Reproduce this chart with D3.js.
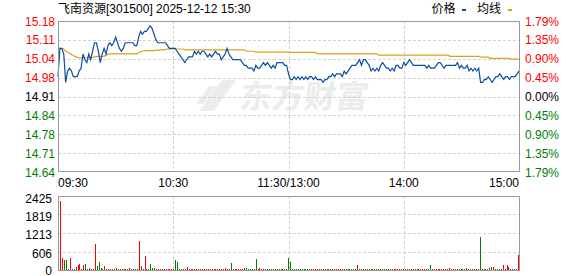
<!DOCTYPE html>
<html>
<head>
<meta charset="utf-8">
<script src="https://cdn.jsdelivr.net/npm/d3@7"></script>
<style>
  body { margin: 0; background: #fff; }
  svg { display: block; font-family: "Liberation Sans", Arial, "Noto Sans CJK SC", sans-serif; }
</style>
</head>
<body>
<div id="graf"></div>
<script>
// Data
const title = "飞南资源[301500] 2025-12-12 15:30"
const legendNames = ["价格", "均线"]
const prevClose = 14.91
const maxPct = 0.0179

const timeLabels = ["09:30", "10:30", "11:30/13:00", "14:00", "15:00"]
const timeMinutes = [0, 60, 120, 180, 240]
const priceLabels = ["15.18", "15.11", "15.04", "14.98", "14.91", "14.84", "14.78", "14.71", "14.64"]
const pctLabels = ["1.79%", "1.35%", "0.90%", "0.45%", "0.00%", "0.45%", "0.90%", "1.35%", "1.79%"]
const volTicks = [2425, 1819, 1213, 606, 0]

// one value per minute, 09:30 .. 11:30 / 13:00 .. 15:00
const prices = [
  14.98, 15.08, 15.08, 15.06, 14.96, 15.00, 15.01, 15.00, 14.98, 14.98,
  14.98, 15.00, 15.01, 15.06, 15.04, 15.03, 15.06, 15.04, 15.07, 15.10,
  15.10, 15.07, 15.03, 15.06, 15.08, 15.06, 15.09, 15.10, 15.09, 15.10,
  15.12, 15.10, 15.08, 15.07, 15.08, 15.10, 15.10, 15.10, 15.10, 15.10,
  15.09, 15.09, 15.12, 15.14, 15.13, 15.14, 15.14, 15.15, 15.16, 15.15,
  15.13, 15.11, 15.10, 15.10, 15.10, 15.10, 15.10, 15.09, 15.08, 15.08,
  15.08, 15.08, 15.07, 15.06, 15.05, 15.04, 15.03, 15.04, 15.05, 15.05,
  15.05, 15.07, 15.06, 15.07, 15.06, 15.07, 15.07, 15.06, 15.05, 15.06,
  15.05, 15.06, 15.07, 15.06, 15.06, 15.04, 15.05, 15.06, 15.08, 15.06,
  15.05, 15.04, 15.04, 15.04, 15.04, 15.04, 15.03, 15.02, 15.02, 15.01,
  15.01, 15.01, 15.00, 15.02, 15.01, 15.01, 15.02, 15.03, 15.02, 15.03,
  15.02, 15.01, 15.02, 15.01, 15.03, 15.03, 15.03, 15.03, 15.02, 15.02,
  14.99, 14.97, 14.97, 14.98, 14.97, 14.98, 14.97, 14.98, 14.97, 14.98,
  14.97, 14.98, 14.98, 14.97, 14.98, 14.97, 14.97, 14.97, 14.96, 14.97,
  14.97, 14.98, 14.98, 14.99, 14.98, 14.99, 14.99, 14.99, 14.98, 15.00,
  14.99, 15.00, 15.01, 15.02, 15.02, 15.02, 15.03, 15.04, 15.02, 15.04,
  15.04, 15.03, 15.02, 15.00, 15.01, 15.00, 15.01, 15.00, 15.02, 15.03,
  15.02, 15.01, 15.01, 15.00, 15.01, 15.00, 15.02, 15.02, 15.01, 15.01,
  15.03, 15.02, 15.03, 15.04, 15.03, 15.02, 15.02, 15.02, 15.02, 15.02,
  15.02, 15.02, 15.01, 15.02, 15.01, 15.01, 15.01, 15.02, 15.03, 15.03,
  15.02, 15.01, 15.02, 15.02, 15.02, 15.02, 15.02, 15.02, 15.03, 15.01,
  15.02, 15.01, 15.01, 15.02, 15.00, 15.01, 15.00, 15.01, 15.00, 15.01,
  14.96, 14.96, 14.97, 14.97, 14.98, 14.97, 14.96, 14.97, 14.98, 14.98,
  14.99, 14.98, 14.97, 14.98, 14.98, 14.97, 14.98, 14.98, 14.98, 14.99,
  15.00
]

const avgPrices = [
  15.080, 15.080, 15.080, 15.078, 15.070, 15.067, 15.063, 15.058, 15.056, 15.051,
  15.048, 15.047, 15.047, 15.047, 15.047, 15.047, 15.047, 15.047, 15.048, 15.050,
  15.051, 15.052, 15.052, 15.052, 15.052, 15.056, 15.061, 15.061, 15.061, 15.061,
  15.061, 15.061, 15.061, 15.061, 15.061, 15.061, 15.061, 15.061, 15.061, 15.061,
  15.061, 15.061, 15.065, 15.068, 15.070, 15.072, 15.072, 15.072, 15.072, 15.072,
  15.072, 15.074, 15.074, 15.074, 15.076, 15.076, 15.076, 15.078, 15.078, 15.078,
  15.078, 15.078, 15.078, 15.078, 15.078, 15.078, 15.075, 15.075, 15.075, 15.075,
  15.075, 15.075, 15.075, 15.075, 15.075, 15.075, 15.075, 15.075, 15.075, 15.075,
  15.075, 15.075, 15.075, 15.075, 15.075, 15.075, 15.075, 15.075, 15.075, 15.075,
  15.075, 15.075, 15.075, 15.075, 15.075, 15.075, 15.075, 15.075, 15.070, 15.070,
  15.070, 15.070, 15.070, 15.067, 15.067, 15.067, 15.067, 15.067, 15.067, 15.067,
  15.067, 15.067, 15.067, 15.067, 15.067, 15.067, 15.067, 15.067, 15.067, 15.067,
  15.067, 15.066, 15.066, 15.066, 15.066, 15.066, 15.066, 15.066, 15.066, 15.066,
  15.066, 15.066, 15.066, 15.066, 15.066, 15.061, 15.061, 15.061, 15.061, 15.061,
  15.061, 15.061, 15.061, 15.061, 15.061, 15.061, 15.061, 15.061, 15.061, 15.061,
  15.061, 15.061, 15.061, 15.061, 15.061, 15.061, 15.061, 15.061, 15.061, 15.061,
  15.061, 15.061, 15.061, 15.061, 15.061, 15.061, 15.061, 15.056, 15.056, 15.056,
  15.056, 15.056, 15.056, 15.056, 15.056, 15.056, 15.056, 15.056, 15.056, 15.056,
  15.056, 15.056, 15.056, 15.056, 15.056, 15.056, 15.056, 15.056, 15.056, 15.056,
  15.056, 15.056, 15.056, 15.056, 15.056, 15.056, 15.056, 15.056, 15.056, 15.056,
  15.056, 15.056, 15.056, 15.056, 15.052, 15.052, 15.052, 15.052, 15.052, 15.052,
  15.052, 15.052, 15.052, 15.052, 15.052, 15.052, 15.052, 15.052, 15.052, 15.052,
  15.049, 15.049, 15.049, 15.049, 15.049, 15.045, 15.045, 15.045, 15.045, 15.045,
  15.045, 15.045, 15.045, 15.045, 15.045, 15.045, 15.042, 15.042, 15.042, 15.042,
  15.042
]

const volumes = [
  50, 2251, 403, 336, 336, 34, 403, 20, 45, 100,
  157, 200, 15, 180, 200, 45, 67, 45, 22, 840,
  135, 270, 67, 15, 135, 45, 20, 20, 20, 20,
  67, 20, 20, 20, 20, 20, 20, 67, 20, 20,
  45, 20, 940, 135, 20, 470, 20, 20, 200, 80,
  50, 20, 20, 20, 20, 20, 40, 20, 20, 20,
  20, 340, 270, 20, 20, 20, 20, 100, 20, 20,
  20, 20, 20, 20, 20, 20, 20, 20, 20, 20,
  20, 20, 20, 20, 20, 20, 20, 67, 20, 20,
  235, 20, 20, 20, 20, 20, 20, 67, 67, 20,
  20, 20, 20, 370, 20, 67, 20, 20, 20, 20,
  20, 20, 20, 20, 20, 20, 20, 20, 20, 20,
  403, 270, 20, 20, 20, 20, 20, 20, 20, 20,
  20, 20, 20, 20, 20, 20, 20, 20, 20, 20,
  20, 20, 20, 20, 20, 20, 20, 20, 20, 20,
  20, 20, 20, 20, 20, 20, 180, 20, 20, 45,
  20, 45, 20, 20, 20, 20, 20, 20, 20, 20,
  20, 20, 20, 20, 20, 20, 20, 20, 20, 20,
  20, 20, 20, 20, 20, 20, 20, 20, 20, 20,
  20, 20, 20, 20, 168, 20, 20, 20, 20, 20,
  20, 20, 20, 20, 67, 20, 20, 20, 20, 20,
  20, 45, 20, 67, 20, 20, 20, 20, 20, 20,
  1075, 30, 20, 20, 20, 67, 90, 100, 20, 20,
  20, 45, 157, 20, 157, 100, 20, 20, 20, 20,
  504
]

// r = up minute, g = down minute
const volDir = (
  "rrrggrrggr" + "rrgrggrrrr" + "ggggrgrrrg" + "rgggrgrrgr" + "ggrrgrgrgg" +
  "grrrrrrrrr" + "rgggggrrrr" + "rrrrrrgrrr" + "rrrrrrrrrr" + "grrrrrrggg" +
  "ggggrrrrrg" + "gggggrgggg" + "gggggggggg" + "grrrrrrrrr" + "rgrrgrrrrr" +
  "rgggggrrgr" + "grrggggggg" + "ggggrrrrrr" + "rgrrggrrgr" + "rrgrggrrrr" +
  "rrrrrrgrgr" + "ggrrgrgrrg" + "ggrrrggrrg" + "grrgrrrgrr" + "r"
).split("")

// Layout
const W = 578, H = 276
const plot = { left: 58, right: 519, top: 21, bottom: 172 }
const vol = { top: 196, bottom: 270 }
const red = "#ff0000", green = "#008000", dark = "#000000"
const blue = "#0b4ea2", gold = "#daa21e"

const svg = d3.select("#graf").append("svg").attr("width", W).attr("height", H)

// Escaladores
const x = d3.scaleLinear().domain([0, 240]).range([plot.left, plot.right])
const xVol = d3.scaleLinear().domain([0, 240]).range([58.4, 518])
const y = d3.scaleLinear()
  .domain([prevClose * (1 - maxPct), prevClose * (1 + maxPct)])
  .range([plot.bottom, plot.top])
const yVol = d3.scaleLinear().domain([0, volTicks[0]]).range([vol.bottom, vol.top])
const tickPrice = (i) => prevClose * (1 + (maxPct * (4 - i)) / 4)
const labelColor = (i) => (i < 4 ? red : i === 4 ? dark : green)

// watermark
const wm = svg.append("g").attr("fill", "#ececec")
wm.append("path")
  .attr("d", "M222,80 L236,80 L214,111 L199,111 Z M209,86 L217,86 L203,104 L196,104 Z")
wm.append("text")
  .attr("x", 240).attr("y", 108)
  .attr("font-size", 32).attr("font-weight", "bold")
  .attr("font-family", "Noto Sans CJK SC")
  .attr("transform", "skewX(-8) translate(14,0)")
  .text("东方财富")

// grid
const grid = svg.append("g")
  .attr("stroke", "#d2d2d2").attr("stroke-dasharray", "3,2").attr("shape-rendering", "crispEdges")
priceLabels.forEach((d, i) => {
  if (i === 0 || i === 8) return
  const yy = Math.round(y(tickPrice(i))) + 0.5
  grid.append("line").attr("x1", plot.left).attr("x2", plot.right).attr("y1", yy).attr("y2", yy)
})
volTicks.slice(1, -1).forEach((v) => {
  const yy = Math.round(yVol(v)) + 0.5
  grid.append("line").attr("x1", plot.left).attr("x2", plot.right).attr("y1", yy).attr("y2", yy)
})
timeMinutes.slice(1, -1).forEach((m) => {
  const xx = Math.round(x(m)) + 0.5
  grid.append("line").attr("x1", xx).attr("x2", xx).attr("y1", plot.top).attr("y2", plot.bottom)
  grid.append("line").attr("x1", xx).attr("x2", xx).attr("y1", vol.top).attr("y2", vol.bottom)
})

// lines
const line = d3.line().x((d, i) => x(i)).y((d) => y(d))
svg.append("path").datum(avgPrices)
  .attr("d", line).attr("fill", "none").attr("stroke", gold).attr("stroke-width", 1.2)
svg.append("path").datum(prices)
  .attr("d", line).attr("fill", "none").attr("stroke", blue).attr("stroke-width", 1.2)

// volume bars
svg.append("g").attr("shape-rendering", "crispEdges")
  .selectAll("rect").data(volumes).join("rect")
  .attr("x", (d, i) => Math.round(xVol(i)))
  .attr("width", 1)
  .attr("y", (d) => Math.min(yVol(d), vol.bottom - 1))
  .attr("height", (d) => Math.max(1, vol.bottom - yVol(d)))
  .attr("fill", (d, i) => (volDir[i] === "r" ? red : green))

// frames
svg.append("rect").attr("x", plot.left + 0.5).attr("y", plot.top + 0.5)
  .attr("width", plot.right - plot.left).attr("height", plot.bottom - plot.top - 1)
  .attr("fill", "none").attr("stroke", "#999")
svg.append("rect").attr("x", plot.left + 0.5).attr("y", vol.top + 0.5)
  .attr("width", plot.right - plot.left).attr("height", vol.bottom - vol.top)
  .attr("fill", "none").attr("stroke", "#999")

// axis labels
const txt = svg.append("g").attr("font-size", 12).attr("dominant-baseline", "central")
priceLabels.forEach((d, i) => {
  txt.append("text").attr("x", 55).attr("y", y(tickPrice(i)) + 0.5)
    .attr("text-anchor", "end").attr("fill", labelColor(i)).text(d)
})
pctLabels.forEach((d, i) => {
  txt.append("text").attr("x", 525).attr("y", y(tickPrice(i)) + 0.5)
    .attr("fill", labelColor(i)).text(d)
})
volTicks.forEach((v) => {
  txt.append("text").attr("x", 52).attr("y", Math.min(yVol(v) + 2.5, 270.5))
    .attr("text-anchor", "end").attr("fill", dark).text(v)
})
timeLabels.forEach((d, i) => {
  const m = timeMinutes[i]
  txt.append("text").attr("x", x(m)).attr("y", 182.5)
    .attr("text-anchor", i === 0 ? "start" : i === timeLabels.length - 1 ? "end" : "middle")
    .attr("fill", dark).text(d)
})

// title + legend
txt.append("text").attr("x", 58).attr("y", 9).attr("fill", dark).text(title)
txt.append("text").attr("x", 431.5).attr("y", 9).attr("fill", dark).text(legendNames[0])
svg.append("rect").attr("x", 462).attr("y", 9).attr("width", 4).attr("height", 2).attr("fill", blue)
txt.append("text").attr("x", 477).attr("y", 9).attr("fill", dark).text(legendNames[1])
svg.append("rect").attr("x", 508).attr("y", 9).attr("width", 4).attr("height", 2).attr("fill", gold)
</script>
</body>
</html>
